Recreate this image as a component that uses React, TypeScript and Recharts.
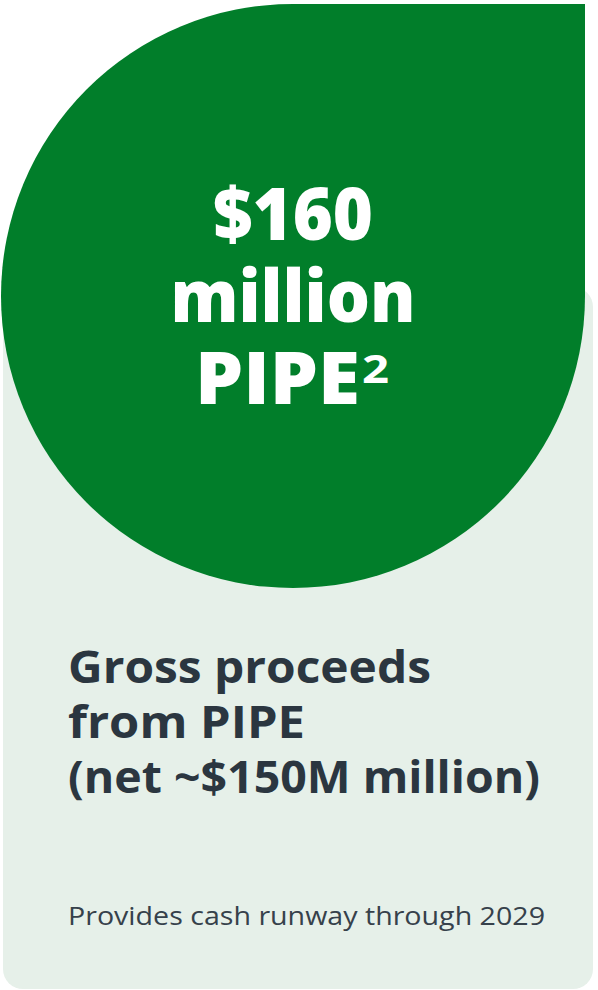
import React from "react";
import { PieChart, Pie, Customized } from "recharts";

const pipeData = [{ name: "PIPE gross proceeds ($M)", value: 160 }];
const headlineLines = ["$160", "million", "PIPE"];
const headlineSup = "2";
const subtitleLines = ["Gross proceeds", "from PIPE", "(net ~$150M million)"];
const footnote = "Provides cash runway through 2029";

const W = 598;
const H = 990;
const GREEN = "#017E2A";
const CARD = "#E6F0E9";
const DARK = "#2B3640";
const FONT = "'Open Sans', 'DejaVu Sans', sans-serif";

const headlineWidths = [160, 245, 165];
const subtitleWidths = [363, 237, 472];

const LeafShape = (props: any) => {
  const { cx, cy, outerRadius: r, fill } = props;
  const d = `M ${cx - r} ${cy} A ${r} ${r} 0 0 1 ${cx} ${cy - r} L ${cx + r} ${cy - r} L ${cx + r} ${cy} A ${r} ${r} 0 0 1 ${cx - r} ${cy} Z`;
  const tx = cx;
  return (
    <g>
      <path d={d} fill={fill} />
      <text x={tx} y={240} textAnchor="middle" fill="#fff" fontFamily={FONT} fontWeight={800} fontSize={72}
        textLength={headlineWidths[0]} lengthAdjust="spacingAndGlyphs">
        {headlineLines[0]}
      </text>
      <text x={tx} y={322} textAnchor="middle" fill="#fff" fontFamily={FONT} fontWeight={800} fontSize={72}
        textLength={headlineWidths[1]} lengthAdjust="spacingAndGlyphs">
        {headlineLines[1]}
      </text>
      <text x={195} y={404} fill="#fff" fontFamily={FONT} fontWeight={800} fontSize={72}
        textLength={headlineWidths[2]} lengthAdjust="spacingAndGlyphs">
        {headlineLines[2]}
      </text>
      <text x={362} y={383} fill="#fff" fontFamily={FONT} fontWeight={700} fontSize={40}
        textLength={27} lengthAdjust="spacingAndGlyphs">
        {headlineSup}
      </text>
    </g>
  );
};

const Card = () => (
  <rect x={3} y={287} width={590} height={702} rx={20} ry={20} fill={CARD} />
);

const Texts = () => (
  <g>
    {subtitleLines.map((l, i) => (
      <text key={l} x={68} y={683 + i * 55} fill={DARK} fontFamily={FONT} fontWeight={700} fontSize={45}
        textLength={subtitleWidths[i]} lengthAdjust="spacingAndGlyphs">
        {l}
      </text>
    ))}
    <text x={68} y={925} fill="#36414B" fontFamily={FONT} fontWeight={400} fontSize={26}
      textLength={477} lengthAdjust="spacingAndGlyphs">
      {footnote}
    </text>
  </g>
);

export default function App() {
  return (
    <div style={{ position: "absolute", left: 0, top: 0, width: W, height: H }}>
      <PieChart width={W} height={H} margin={{ top: 0, right: 0, bottom: 0, left: 0 }}>
        <Customized component={Card} />
        <Pie
          data={pipeData}
          dataKey="value"
          nameKey="name"
          cx={293}
          cy={296}
          outerRadius={292}
          innerRadius={0}
          startAngle={90}
          endAngle={-270}
          fill={GREEN}
          stroke="none"
          shape={LeafShape}
          isAnimationActive={false}
        />
        <Customized component={Texts} />
      </PieChart>
    </div>
  );
}
